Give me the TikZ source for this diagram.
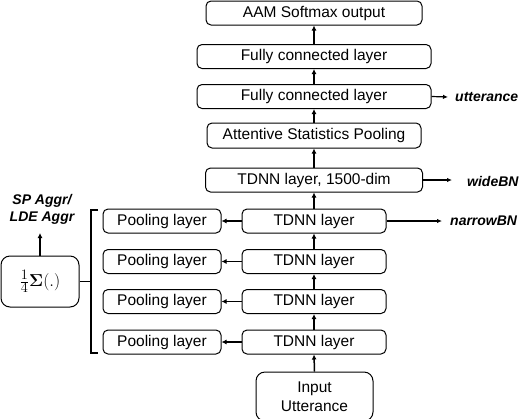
\documentclass[tikz,border=0pt]{standalone}
\usepackage{amsmath}
\usepackage{fontspec}
\setmainfont{Liberation Sans}
\usetikzlibrary{arrows.meta}
\begin{document}
\begin{tikzpicture}[x=1pt,y=-1pt,
  box/.style={draw, line width=1pt, rounded corners=5pt, inner sep=0pt, minimum height=24pt, font=\fontsize{15.5}{18}\selectfont},
  arr/.style={line width=1.5pt, -{Latex[length=5pt,width=5pt]}},
  lab/.style={font=\fontsize{14}{17}\selectfont\bfseries\itshape, inner sep=0pt}]
\useasboundingbox (0,0) rectangle (524,418);
% main chain
\node[box, minimum width=216pt] (aam) at (314,13) {AAM Softmax output};
\node[box, minimum width=234pt] (fc1) at (314,56.5) {Fully connected layer};
\node[box, minimum width=234pt] (fc2) at (314,96.5) {Fully connected layer};
\node[box, minimum width=214pt, minimum height=25pt] (att) at (314,135.5) {Attentive Statistics Pooling};
\node[box, minimum width=217pt] (tdw) at (314,180) {TDNN layer, 1500-dim};
\node[box, minimum width=144pt] (td1) at (314,221) {TDNN layer};
\node[box, minimum width=144pt] (td2) at (314,261.5) {TDNN layer};
\node[box, minimum width=144pt] (td3) at (314,301.5) {TDNN layer};
\node[box, minimum width=144pt] (td4) at (314,342) {TDNN layer};
\node[box, minimum width=117pt, minimum height=49pt, rounded corners=9pt, align=center] (inp) at (314.5,396.5) {Input\\[1pt]Utterance};
% pooling
\node[box, minimum width=118pt] (p1) at (162,221) {Pooling layer};
\node[box, minimum width=118pt] (p2) at (162,261.5) {Pooling layer};
\node[box, minimum width=118pt] (p3) at (162,301.5) {Pooling layer};
\node[box, minimum width=118pt] (p4) at (162,342) {Pooling layer};
% aggregation
\node[draw, line width=1pt, rounded corners=9pt, minimum width=78pt, minimum height=51pt, inner sep=0pt, font=\fontsize{19}{22}\selectfont] (sum) at (40,281.5) {$\frac{1}{4}\boldsymbol{\Sigma}(.)$};
\node[lab, align=center] (agg) at (42,209) {SP Aggr/\\LDE Aggr};
\coordinate (aggtip) at (40,233);
% labels
\node[lab, anchor=west] (utt) at (455,97) {utterance};
\node[lab, anchor=west] (wide) at (467,181) {wideBN};
\node[lab, anchor=west] (narrow) at (450,221) {narrowBN};
\coordinate (uttend) at (448,97);
\coordinate (wideend) at (452,180);
\coordinate (narrowend) at (442,221);
% arrows up the chain
\draw[arr] (inp.north) -- (td4.south);
\draw[arr] (td4.north) -- (td3.south);
\draw[arr] (td3.north) -- (td2.south);
\draw[arr] (td2.north) -- (td1.south);
\draw[arr] (td1.north) -- (tdw.south);
\draw[arr] (tdw.north) -- (att.south);
\draw[arr] (att.north) -- (fc2.south);
\draw[arr] (fc2.north) -- (fc1.south);
\draw[arr] (fc1.north) -- (aam.south);
% side outputs
\draw[line width=1.2pt, -{Latex[length=5pt,width=4.5pt]}] (fc2.east) -- (uttend);
\draw[line width=1.2pt, -{Latex[length=5pt,width=4.5pt]}] (tdw.east) -- (wideend);
\draw[line width=1.2pt, -{Latex[length=5pt,width=4.5pt]}] (td1.east) -- (narrowend);
% to pooling
\draw[arr] (td1.west) -- (p1.east);
\draw[arr] (td2.west) -- (p2.east);
\draw[arr] (td3.west) -- (p3.east);
\draw[arr] (td4.west) -- (p4.east);
% bracket
\coordinate (brt) at (98,210);
\coordinate (brb) at (98,353);
\draw[line width=1.4pt] (brt) -- (91,210) -- (91,353) -- (brb);
\draw[line width=1.4pt] (sum.east) -- (91,281.5);
\draw[arr] (sum.north) -- (aggtip);
\end{tikzpicture}
\end{document}
